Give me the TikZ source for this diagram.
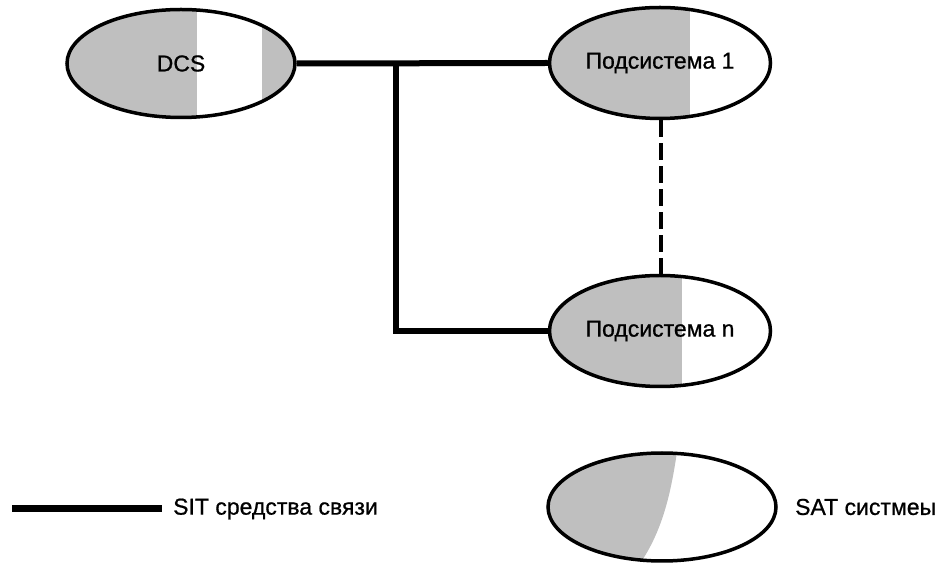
\documentclass[tikz,border=0pt]{standalone}
\usepackage{fontspec}
\setmainfont{Liberation Sans}[FakeBold=0.8]
\usetikzlibrary{shapes.geometric,calc}
\definecolor{shadegray}{gray}{0.75}
\tikzset{
  sysnode/.style={ellipse, draw=black, line width=3.5pt, inner sep=0pt,
    minimum width=228pt, minimum height=110pt,
    font=\fontsize{23}{27}\selectfont},
  link/.style={line width=6pt, line join=miter},
  dashlink/.style={line width=4pt, dash pattern=on 17pt off 6pt},
  legendtext/.style={anchor=west, inner sep=0pt, font=\fontsize{23}{27}\selectfont}
}
\begin{document}
\begin{tikzpicture}[x=1pt,y=1pt]
\useasboundingbox (0,0) rectangle (943,565);
% DCS
\node[sysnode, minimum width=228pt, minimum height=108pt,
  path picture={
    \coordinate (c) at (path picture bounding box.center);
    \fill[shadegray] ($(c)+(-130,-70)$) rectangle ($(c)+(16,70)$);
    \fill[shadegray] ($(c)+(81,-70)$) rectangle ($(c)+(130,70)$);
  }] (dcs) at (181,501.5) {DCS};
% Subsystem 1
\node[sysnode, minimum width=221pt, minimum height=111pt,
  path picture={
    \coordinate (c) at (path picture bounding box.center);
    \fill[shadegray] ($(c)+(-130,-70)$) rectangle ($(c)+(30,70)$);
  }] (sub1) at (660,502) {Подсистема 1};
% Subsystem n
\node[sysnode, minimum width=221pt, minimum height=111pt,
  path picture={
    \coordinate (c) at (path picture bounding box.center);
    \fill[shadegray] ($(c)+(-130,-70)$) rectangle ($(c)+(22,70)$);
  }] (subn) at (660,234) {Подсистема n};
% Legend ellipse
\node[sysnode, minimum width=228pt, minimum height=108pt,
  path picture={
    \coordinate (c) at (path picture bounding box.center);
    \fill[shadegray] ($(c)+(16,62)$) .. controls ($(c)+(10,20)$) and ($(c)+(2,-25)$) .. ($(c)+(-26,-62)$)
      -- ($(c)+(-130,-62)$) -- ($(c)+(-130,62)$) -- cycle;
  }] (sat) at (662,58) {};
\node[legendtext] (sattext) at (795,58) {SAT систмеы};
% Connectors
\coordinate (j) at (396,501.5);
\draw[link] (dcs.east) -- (sub1.west);
\draw[link] (j) |- (subn.west);
\draw[dashlink] ([xshift=1pt]sub1.south) -- ([xshift=1pt]subn.north);
% Legend line
\coordinate (l1) at (12,56);
\coordinate (l2) at (162,56);
\draw[line width=7pt] (l1) -- (l2);
\node[legendtext] (sittext) at (173,56) {SIT средства связи};
\end{tikzpicture}
\end{document}
